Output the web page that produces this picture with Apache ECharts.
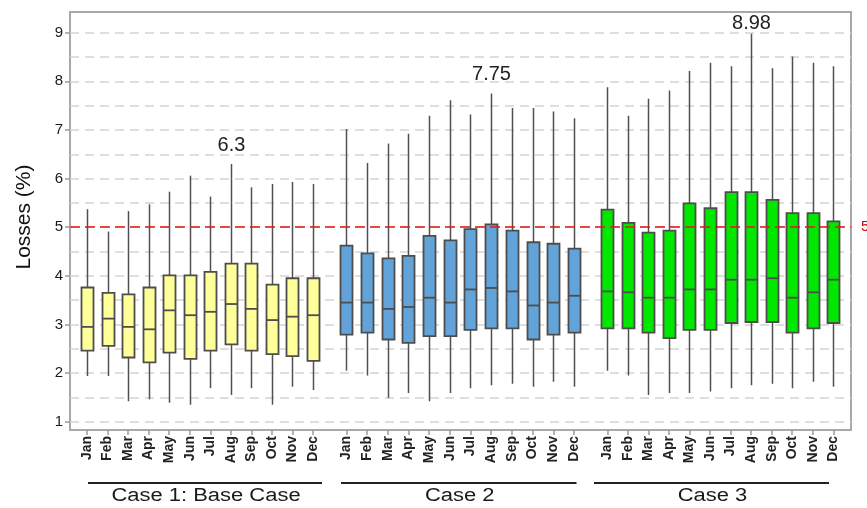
<!DOCTYPE html>
<html>
<head>
<meta charset="utf-8">
<title>Monthly losses by case</title>
<script src="https://cdn.jsdelivr.net/npm/echarts@6/dist/echarts.min.js"></script>
<style>
  html, body { margin: 0; padding: 0; background: #ffffff; }
  #chart { width: 867px; height: 508px; }
</style>
</head>
<body>
<div id="chart"></div>
<script>
// Month categories shared by the three cases
const months = ['Jan', 'Feb', 'Mar', 'Apr', 'May', 'Jun', 'Jul', 'Aug', 'Sep', 'Oct', 'Nov', 'Dec'];
const caseNames = ['Case 1: Base Case', 'Case 2', 'Case 3'];
const yTicks = [1, 2, 3, 4, 5, 6, 7, 8, 9];
const limitValue = 5;
const peakMonth = 'Aug';

// Case 1: Base Case (losses, %)
const case1Low = [1.94, 1.94, 1.42, 1.46, 1.39, 1.35, 1.69, 1.55, 1.69, 1.35, 1.72, 1.65];
const case1Q1 = [2.46, 2.56, 2.32, 2.22, 2.42, 2.29, 2.46, 2.59, 2.46, 2.39, 2.35, 2.25];
const case1Median = [2.95, 3.12, 2.95, 2.90, 3.29, 3.19, 3.26, 3.42, 3.32, 3.09, 3.16, 3.19];
const case1Q3 = [3.76, 3.65, 3.62, 3.76, 4.01, 4.01, 4.08, 4.25, 4.25, 3.82, 3.95, 3.95];
const case1High = [5.37, 4.91, 5.33, 5.47, 5.73, 6.06, 5.63, 6.3, 5.82, 5.89, 5.93, 5.89];

// Case 2
const case2Low = [2.05, 1.95, 1.49, 1.59, 1.42, 1.59, 1.69, 1.75, 1.78, 1.72, 1.82, 1.72];
const case2Q1 = [2.79, 2.83, 2.69, 2.62, 2.76, 2.76, 2.89, 2.92, 2.92, 2.69, 2.79, 2.83];
const case2Median = [3.45, 3.45, 3.32, 3.36, 3.55, 3.45, 3.72, 3.75, 3.68, 3.39, 3.45, 3.59];
const case2Q3 = [4.62, 4.46, 4.36, 4.41, 4.82, 4.73, 4.96, 5.06, 4.93, 4.69, 4.66, 4.56];
const case2High = [7.02, 6.32, 6.72, 6.92, 7.29, 7.61, 7.32, 7.75, 7.45, 7.45, 7.38, 7.24];

// Case 3
const case3Low = [2.05, 1.95, 1.55, 1.59, 1.59, 1.62, 1.69, 1.75, 1.78, 1.69, 1.82, 1.72];
const case3Q1 = [2.92, 2.92, 2.83, 2.72, 2.89, 2.89, 3.03, 3.05, 3.05, 2.83, 2.92, 3.03];
const case3Median = [3.68, 3.66, 3.55, 3.55, 3.72, 3.72, 3.92, 3.92, 3.95, 3.55, 3.66, 3.92];
const case3Q3 = [5.36, 5.09, 4.89, 4.93, 5.49, 5.39, 5.72, 5.72, 5.56, 5.29, 5.29, 5.12];
const case3High = [7.88, 7.29, 7.64, 7.81, 8.21, 8.38, 8.31, 8.98, 8.27, 8.51, 8.38, 8.31];

const cases = [
  { low: case1Low, q1: case1Q1, median: case1Median, q3: case1Q3, high: case1High },
  { low: case2Low, q1: case2Q1, median: case2Median, q3: case2Q3, high: case2High },
  { low: case3Low, q1: case3Q1, median: case3Median, q3: case3Q3, high: case3High }
];

// ---- styling / layout ----
const FONT = 'Liberation Sans, Arial, sans-serif';
const boxColors = ['#ffff99', '#62a4da', '#00e800'];
const edgeColor = '#4d4d4d';
const frame = { left: 70, top: 12, right: 851, bottom: 430 };
const axisTop = 32.7, axisBottom = 421.7;
// horizontal extent of each case's month band
const bands = [[76.7, 323.3], [336.0, 584.3], [597.0, 843.6]];
const bracketSpans = [[88, 322], [341, 576.5], [594, 829]];
const bracketY = 483, captionY = 496;
const boxHalf = 6;

const chart = echarts.init(document.getElementById('chart'), null, { renderer: 'canvas' });

const grids = [
  // outer frame
  { left: frame.left, top: frame.top, width: frame.right - frame.left, height: frame.bottom - frame.top,
    show: true, borderColor: '#a8a8a8', borderWidth: 2, backgroundColor: 'transparent' },
  // value scale with gridlines
  { left: frame.left, top: axisTop, width: frame.right - frame.left, height: axisBottom - axisTop }
];
bands.forEach(function (b) {
  grids.push({ left: b[0], top: axisTop, width: b[1] - b[0], height: axisBottom - axisTop });
});

const xAxes = [
  { gridIndex: 0, type: 'value', show: false, min: 0, max: 1 },
  { gridIndex: 1, type: 'value', show: false, min: 0, max: 1 }
];
const yAxes = [
  { gridIndex: 0, type: 'value', show: false, min: 0, max: 1 },
  {
    gridIndex: 1, type: 'value', min: yTicks[0], max: yTicks[yTicks.length - 1], interval: 1,
    axisLine: { show: false },
    axisTick: { show: true, length: 5, lineStyle: { color: '#9a9a9a', width: 1.5 } },
    axisLabel: { color: '#1a1a1a', fontSize: 15, fontFamily: FONT, margin: 7, padding: [0, 0, 7, 0] },
    splitLine: { show: true, lineStyle: { color: '#d4d4d4', type: [9, 6], width: 1.5 } },
    minorTick: { show: false, splitNumber: 2 },
    minorSplitLine: { show: true, lineStyle: { color: '#d4d4d4', type: [9, 6], width: 1.5 } }
  }
];

const series = [
  {
    type: 'line', xAxisIndex: 1, yAxisIndex: 1, data: [], silent: true,
    markLine: {
      symbol: 'none', silent: true,
      lineStyle: { color: '#e81515', type: [10, 5], width: 1.6 },
      label: { show: true, position: 'end', formatter: '{c}', color: '#cc0000', fontSize: 15, fontFamily: FONT, distance: 10 },
      data: [{ yAxis: limitValue }]
    }
  }
];

cases.forEach(function (c, k) {
  const gi = k + 2;
  xAxes.push({
    gridIndex: gi, type: 'category', data: months, boundaryGap: true, offset: frame.bottom - axisBottom,
    axisLine: { show: false },
    axisTick: { show: true, alignWithLabel: true, length: 5, lineStyle: { color: '#9a9a9a', width: 1.5 } },
    axisLabel: { rotate: 90, fontSize: 14, fontWeight: 'bold', color: '#222222', fontFamily: FONT, margin: 6, interval: 0 },
    splitLine: { show: false }
  });
  yAxes.push({ gridIndex: gi, type: 'value', show: false, min: yTicks[0], max: yTicks[yTicks.length - 1] });

  const rows = months.map(function (m, i) {
    return [i, c.low[i], c.q1[i], c.median[i], c.q3[i], c.high[i]];
  });
  const fill = boxColors[k];
  series.push({
    type: 'custom', name: caseNames[k], xAxisIndex: gi, yAxisIndex: gi,
    data: rows, encode: { x: 0, y: [1, 2, 3, 4, 5] },
    renderItem: function (params, api) {
      const idx = api.value(0);
      const lo = api.coord([idx, api.value(1)]);
      const q1 = api.coord([idx, api.value(2)]);
      const md = api.coord([idx, api.value(3)]);
      const q3 = api.coord([idx, api.value(4)]);
      const hi = api.coord([idx, api.value(5)]);
      const cx = Math.round(lo[0]) + 0.5;
      const children = [
        { type: 'line', shape: { x1: cx, y1: lo[1], x2: cx, y2: hi[1] },
          style: { stroke: '#505050', lineWidth: 1.5 } },
        { type: 'rect', shape: { x: cx - boxHalf, y: q3[1], width: boxHalf * 2, height: q1[1] - q3[1] },
          style: { fill: fill, stroke: edgeColor, lineWidth: 1.8 } },
        { type: 'line', shape: { x1: cx - boxHalf, y1: md[1], x2: cx + boxHalf, y2: md[1] },
          style: { stroke: edgeColor, lineWidth: 1.8 } }
      ];
      if (months[idx] === peakMonth) {
        children.push({
          type: 'text',
          style: {
            text: String(api.value(5)), x: cx, y: Math.max(hi[1] - 19, frame.top + 11),
            align: 'center', verticalAlign: 'middle',
            fontSize: 20, fontFamily: FONT, fill: '#222222'
          }
        });
      }
      return { type: 'group', children: children };
    }
  });
});

// axis title, case brackets and captions under the month labels
const graphics = [
  {
    type: 'text', x: 24, y: 217, rotation: Math.PI / 2,
    style: { text: 'Losses (%)', fontSize: 21, fontFamily: FONT, fill: '#111111', align: 'center', verticalAlign: 'middle' }
  }
];
bracketSpans.forEach(function (s, k) {
  graphics.push({
    type: 'line', shape: { x1: s[0], y1: bracketY, x2: s[1], y2: bracketY },
    style: { stroke: '#222222', lineWidth: 2 }
  });
  graphics.push({
    type: 'text', x: (s[0] + s[1]) / 2 + 1, y: captionY, scaleX: 1.22,
    style: { text: caseNames[k], fontSize: 18, fontFamily: FONT, fill: '#1a1a1a', align: 'center', verticalAlign: 'middle' }
  });
});

chart.setOption({
  animation: false,
  backgroundColor: '#ffffff',
  grid: grids,
  xAxis: xAxes,
  yAxis: yAxes,
  series: series,
  graphic: graphics
});
</script>
</body>
</html>
